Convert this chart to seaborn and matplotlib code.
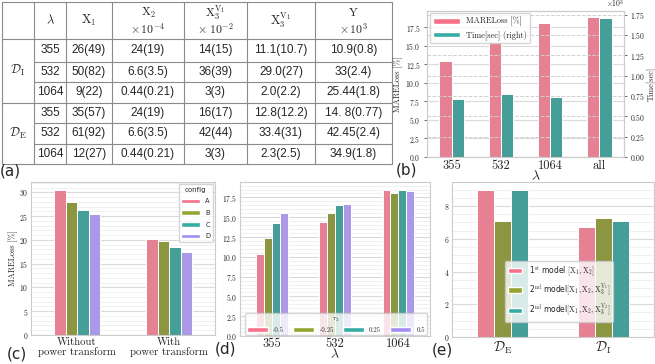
import matplotlib

matplotlib.use("Agg")

import matplotlib.pyplot as plt
import numpy as np
import pandas as pd
import seaborn as sns
from matplotlib import font_manager
from matplotlib.patches import Patch
from matplotlib.ticker import AutoMinorLocator, MultipleLocator, ScalarFormatter

W, H = 655, 364

# (a) table
TABLE_HEAD = [
    (r"$\lambda$",),
    (r"$\mathrm{X}_1$",),
    (r"$\mathrm{X}_2$", r"$\times\,10^{-4}$"),
    (r"$\mathrm{X}_3^{\mathrm{V}_1}$", r"$\times\ 10^{-2}$"),
    (r"$\mathrm{X}_3^{\mathrm{V}_1}$",),
    (r"$\mathrm{Y}$", r"$\times\,10^{3}$"),
]
TABLE_GROUPS = [r"$\mathcal{D}_{\mathrm{I}}$", r"$\mathcal{D}_{\mathrm{E}}$"]
TABLE_LAMBDA = ["355", "532", "1064"]
ROWS_I = [
    ["26(49)", "24(19)", "14(15)", "11.1(10.7)", "10.9(0.8)"],
    ["50(82)", "6.6(3.5)", "36(39)", "29.0(27)", "33(2.4)"],
    ["9(22)", "0.44(0.21)", "3(3)", "2.0(2.2)", "25.44(1.8)"],
]
ROWS_E = [
    ["35(57)", "24(19)", "16(17)", "12.8(12.2)", "14. 8(0.77)"],
    ["61(92)", "6.6(3.5)", "42(44)", "33.4(31)", "42.45(2.4)"],
    ["12(27)", "0.44(0.21)", "3(3)", "2.3(2.5)", "34.9(1.8)"],
]

# (b) loss and time per wavelength
B_LAMBDA = ["355", "532", "1064", "all"]
B_MARE = [12.9, 15.5, 18.1, 18.85]
B_TIME = [707, 776, 742, 1713]

# (c) power transform
C_GROUPS = ["Without\npower transform", "With\npower transform"]
C_CONFIG = ["A", "B", "C", "D"]
C_WITHOUT = [30.55, 28.0, 26.35, 25.5]
C_WITH = [20.2, 19.8, 18.5, 17.5]

# (d) tau_2 per wavelength
D_LAMBDA = ["355", "532", "1064"]
D_TAU = ["-0.5", "-0.25", "0.25", "0.5"]
D_M050 = [10.33, 14.38, 18.47]
D_M025 = [12.4, 15.52, 18.0]
D_P025 = [14.26, 16.5, 18.47]
D_P050 = [15.52, 16.66, 18.35]

# (e) models per dataset
E_SETS = [r"$\mathcal{D}_{\mathrm{E}}$", r"$\mathcal{D}_{\mathrm{I}}$"]
E_MODELS = [
    r"1$^{\mathrm{st}}$ model $[\mathrm{X}_1,\mathrm{X}_2]$",
    r"2$^{\mathrm{nd}}$ model$[\mathrm{X}_1,\mathrm{X}_2,\mathrm{X}_3^{\mathrm{V}_1}]$",
    r"2$^{\mathrm{nd}}$ model$[\mathrm{X}_1,\mathrm{X}_2,\mathrm{X}_3^{\mathrm{V}_2}]$",
]
E_MODEL1 = [9.0, 6.73]
E_MODEL2 = [7.1, 7.24]
E_MODEL3 = [8.96, 7.08]

PAL = sns.color_palette("husl", 4)
BAR_KW = dict(width=0.5, edgecolor="white", linewidth=0.7, errorbar=None, legend=False)

installed = {f.name for f in font_manager.fontManager.ttflist}
NUM_FONT = "Liberation Sans Narrow" if "Liberation Sans Narrow" in installed else "Liberation Sans"


def fig_axes(fig, left, top, right, bottom):
    return fig.add_axes([left / W, 1 - bottom / H, (right - left) / W, (bottom - top) / H])


def style_grid(ax, minor=True):
    ax.grid(True, which="major", axis="y", color="#dadada", lw=0.8)
    if minor:
        ax.yaxis.set_minor_locator(AutoMinorLocator())
        ax.grid(True, which="minor", axis="y", color="#eeeeee", lw=0.6)
    ax.tick_params(which="minor", left=False, right=False)
    ax.tick_params(axis="y", labelsize=5.5, pad=2, length=0)
    ax.tick_params(axis="x", length=0)
    ax.set_axisbelow(True)
    for s in ax.spines.values():
        s.set_color("#cccccc")
        s.set_linewidth(0.8)


def draw_table(fig):
    tab = fig.add_axes([0, 0, 1, 1])
    tab.set_xlim(0, W)
    tab.set_ylim(H, 0)
    tab.axis("off")
    tx = [2, 34, 66, 112, 184, 247, 315, 392]
    ty = [2, 39, 61.5, 82, 102.5, 123, 143.5, 164]
    lk = dict(color="#8a8a8a", lw=0.8)
    for x in tx:
        tab.plot([x, x], [ty[0], ty[-1]], **lk)
    for i, y in enumerate(ty):
        x0 = tx[0] if i in (0, 1, 4, 7) else tx[1]
        tab.plot([x0, tx[-1]], [y, y], **lk)
    for i, head in enumerate(TABLE_HEAD):
        xc = (tx[i + 1] + tx[i + 2]) / 2
        if len(head) == 1:
            tab.text(xc, 20.5, head[0], ha="center", va="center", fontsize=9)
        else:
            tab.text(xc, 12.5, head[0], ha="center", va="center", fontsize=8.5)
            tab.text(xc, 29, head[1], ha="center", va="center", fontsize=8.5)
    for g, (label, rows) in enumerate(zip(TABLE_GROUPS, [ROWS_I, ROWS_E])):
        yc = (ty[1 + 3 * g] + ty[4 + 3 * g]) / 2
        tab.text((tx[0] + tx[1]) / 2, yc, label, ha="center", va="center", fontsize=9)
        for r, (lam, vals) in enumerate(zip(TABLE_LAMBDA, rows)):
            y = (ty[1 + 3 * g + r] + ty[2 + 3 * g + r]) / 2
            tab.text((tx[1] + tx[2]) / 2, y, lam, ha="center", va="center",
                     fontsize=8.5, family=NUM_FONT)
            for c, v in enumerate(vals):
                tab.text((tx[c + 2] + tx[c + 3]) / 2, y, v, ha="center", va="center",
                         fontsize=8.5, family=NUM_FONT)


def plot_b(fig):
    ax = fig_axes(fig, 427, 11, 624, 157)
    ax2 = ax.twinx()
    mare = pd.DataFrame({"lam": B_LAMBDA, "series": "mare", "value": B_MARE})
    time = pd.DataFrame({"lam": B_LAMBDA, "series": "time", "value": B_TIME})
    pal = {"mare": PAL[0], "time": PAL[2]}
    sns.barplot(data=mare, x="lam", y="value", hue="series", hue_order=["mare", "time"],
                order=B_LAMBDA, palette=pal, dodge=True, ax=ax, **BAR_KW)
    sns.barplot(data=time, x="lam", y="value", hue="series", hue_order=["mare", "time"],
                order=B_LAMBDA, palette=pal, dodge=True, ax=ax2, **BAR_KW)
    ax.set_ylim(0, 19.7)
    ax2.set_ylim(0, 1795)
    ax.yaxis.set_major_locator(MultipleLocator(2.5))
    ax2.yaxis.set_major_locator(MultipleLocator(250))
    fmt = ScalarFormatter(useMathText=True)
    fmt.set_powerlimits((0, 0))
    ax2.yaxis.set_major_formatter(fmt)
    ax2.yaxis.get_offset_text().set_fontsize(5.5)
    style_grid(ax, minor=False)
    style_grid(ax2, minor=False)
    ax2.grid(True, which="major", axis="y", color="#d0d0d0", lw=0.7, ls="--")
    ax.tick_params(axis="y", left=True, length=2.5, width=0.6, color="#555555")
    ax2.tick_params(axis="y", right=True, length=2.5, width=0.6, color="#555555")
    ax.tick_params(axis="x", labelsize=9, pad=2)
    ax.set_xlabel(r"$\lambda$", fontsize=10)
    ax.xaxis.set_label_coords(0.55, -0.09)
    ax.set_ylabel("MARELoss [%]", fontsize=6, labelpad=2)
    ax2.set_ylabel("Time[sec]", fontsize=6, labelpad=1)
    ax2.set_xlabel("")
    handles = [Patch(fc=PAL[0], ec="white"), Patch(fc=PAL[2], ec="white")]
    ax2.legend(handles, ["MARELoss [%]", "Time[sec] (right)"], loc="upper left",
               fontsize=6, handlelength=3.2, borderaxespad=0.3, framealpha=0.8)


def plot_c(fig):
    ax = fig_axes(fig, 31, 182, 215, 335)
    rows = []
    for grp, vals in zip(C_GROUPS, [C_WITHOUT, C_WITH]):
        for cfg, v in zip(C_CONFIG, vals):
            rows.append({"group": grp, "config": cfg, "value": v})
    df = pd.DataFrame(rows)
    sns.barplot(data=df, x="group", y="value", hue="config", order=C_GROUPS,
                hue_order=C_CONFIG, palette=PAL, ax=ax, **BAR_KW)
    ax.set_ylim(0, 32.2)
    ax.yaxis.set_major_locator(MultipleLocator(5))
    style_grid(ax)
    ax.tick_params(axis="x", labelsize=7.8, pad=1.5)
    for t in ax.get_xticklabels():
        t.set_linespacing(1.05)
    ax.set_xlabel("")
    ax.set_ylabel("MARELoss [%]", fontsize=6, labelpad=1)
    handles = [Patch(fc=c, ec="white") for c in PAL]
    leg = ax.legend(handles, C_CONFIG, title="config", loc="upper right",
                    prop={"family": "DejaVu Sans", "size": 4.8}, handlelength=2.8,
                    borderaxespad=0.3, labelspacing=0.85, framealpha=0.8)
    leg.get_title().set_fontsize(5)
    leg.get_title().set_family("DejaVu Sans")


def plot_d(fig):
    ax = fig_axes(fig, 240, 182, 430, 336)
    rows = []
    for tau, vals in zip(D_TAU, [D_M050, D_M025, D_P025, D_P050]):
        for lam, v in zip(D_LAMBDA, vals):
            rows.append({"lam": lam, "tau": tau, "value": v})
    df = pd.DataFrame(rows)
    sns.barplot(data=df, x="lam", y="value", hue="tau", order=D_LAMBDA,
                hue_order=D_TAU, palette=PAL, ax=ax, **BAR_KW)
    ax.set_ylim(0, 19.45)
    ax.yaxis.set_major_locator(MultipleLocator(2.5))
    style_grid(ax)
    ax.tick_params(axis="x", labelsize=9, pad=1)
    ax.set_xlabel(r"$\lambda$", fontsize=10)
    ax.xaxis.set_label_coords(0.5, -0.08)
    ax.set_ylabel("")
    handles = [Patch(fc=c, ec="white") for c in PAL]
    leg = ax.legend(handles, D_TAU, title=r"$\tau_2$", loc="lower left",
                    bbox_to_anchor=(0.02, 0.0, 0.97, 1.0), mode="expand", ncol=4,
                    fontsize=5, handlelength=3.0, borderaxespad=0.15, framealpha=0.8,
                    borderpad=0.3)
    leg.get_title().set_fontsize(5)


def plot_e(fig):
    ax = fig_axes(fig, 452, 182, 654, 337)
    rows = []
    for model, vals in zip(E_MODELS, [E_MODEL1, E_MODEL2, E_MODEL3]):
        for ds, v in zip(E_SETS, vals):
            rows.append({"set": ds, "model": model, "value": v})
    df = pd.DataFrame(rows)
    sns.barplot(data=df, x="set", y="value", hue="model", order=E_SETS,
                hue_order=E_MODELS, palette=PAL[:3], ax=ax, **BAR_KW)
    ax.set_ylim(0, 9.47)
    ax.yaxis.set_major_locator(MultipleLocator(2))
    style_grid(ax)
    ax.tick_params(axis="x", labelsize=10, pad=2)
    ax.set_xlabel("")
    ax.set_ylabel("")
    handles = [Patch(fc=c, ec="white") for c in PAL[:3]]
    ax.legend(handles, E_MODELS, loc="lower left", bbox_to_anchor=(0.262, 0.1),
              prop={"family": "DejaVu Sans", "size": 5.5}, handlelength=1.9,
              borderaxespad=0.0, framealpha=0.8, labelspacing=0.55)


def main():
    sns.set_theme(style="whitegrid")
    plt.rcParams["font.family"] = ["cmr10", "DejaVu Serif"]
    plt.rcParams["mathtext.fontset"] = "cm"
    plt.rcParams["axes.unicode_minus"] = False
    plt.rcParams["axes.formatter.use_mathtext"] = True

    fig = plt.figure(figsize=(W / 100, H / 100), dpi=100)
    draw_table(fig)
    plot_b(fig)
    plot_c(fig)
    plot_d(fig)
    plot_e(fig)

    lab = dict(fontsize=11, family="DejaVu Sans", ha="center", va="center")
    fig.text(10 / W, 1 - 171 / H, "(a)", **lab)
    fig.text(407 / W, 1 - 170 / H, "(b)", **lab)
    fig.text(17 / W, 1 - 354 / H, "(c)", **lab)
    fig.text(226 / W, 1 - 349 / H, "(d)", **lab)
    fig.text(442 / W, 1 - 350 / H, "(e)", **lab)

    fig.savefig("out.png", dpi=100)
    plt.close(fig)


if __name__ == "__main__":
    main()
